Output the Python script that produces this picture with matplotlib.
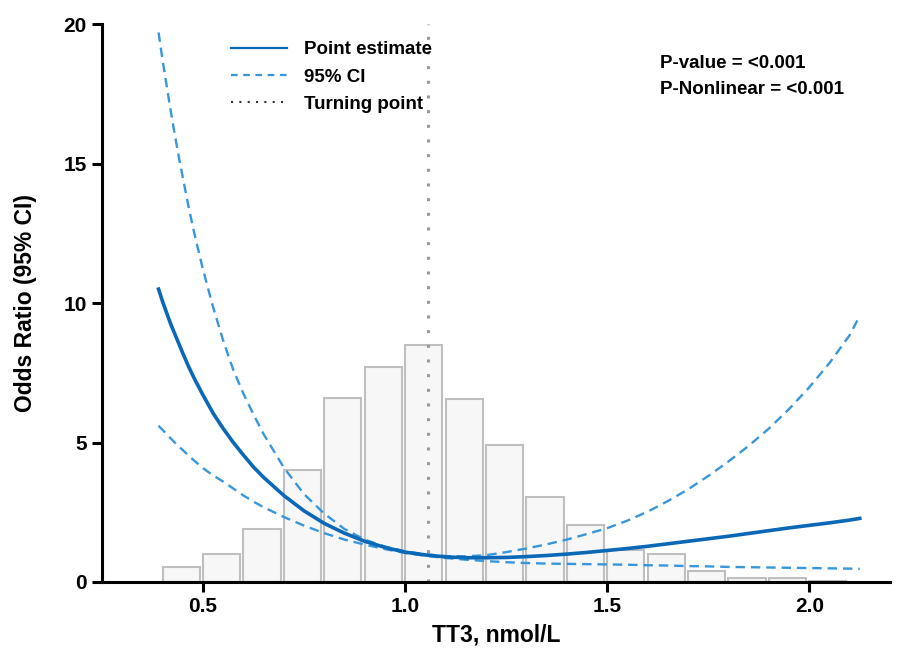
## RCS plot: Odds ratio of outcome by TT3, with histogram of TT3

import numpy as np
import matplotlib.pyplot as plt

plt.rcParams['font.family'] = ['Liberation Sans', 'DejaVu Sans']
plt.rcParams['font.weight'] = 'bold'
plt.rcParams['axes.labelweight'] = 'bold'

## Histogram of TT3 (bin left edges, scaled heights)
bin_left = [0.4, 0.5, 0.6, 0.7, 0.8, 0.9, 1.0, 1.1, 1.2, 1.3, 1.4, 1.5, 1.6, 1.7, 1.8, 1.9, 2.0]
bin_height = [0.52, 1.0, 1.9, 4.0, 6.6, 7.7, 8.5, 6.55, 4.9, 3.05, 2.05, 1.15, 1.0, 0.38, 0.15, 0.15, 0.04]

## Spline curve (OR and 95% CI)
tt3 = [0.39, 0.40, 0.41, 0.42, 0.43, 0.44, 0.45, 0.465, 0.48, 0.5, 0.525, 0.55, 0.575,
       0.6, 0.625, 0.65, 0.7, 0.75, 0.8, 0.85, 0.9, 0.95, 1.0, 1.05, 1.1, 1.15, 1.2,
       1.25, 1.3, 1.35, 1.4, 1.45, 1.5, 1.55, 1.6, 1.65, 1.7, 1.75, 1.8, 1.85, 1.9,
       1.95, 2.0, 2.05, 2.1, 2.125]
or_est = [10.5, 10.05, 9.65, 9.25, 8.9, 8.55, 8.2, 7.7, 7.25, 6.7, 6.05, 5.5, 5.0,
          4.55, 4.12, 3.75, 3.1, 2.55, 2.1, 1.75, 1.46, 1.24, 1.07, 0.97, 0.9, 0.87, 0.87,
          0.88, 0.91, 0.95, 1.0, 1.06, 1.13, 1.2, 1.28, 1.37, 1.46, 1.55, 1.64, 1.74, 1.84,
          1.94, 2.03, 2.12, 2.22, 2.28]
or_upper = [19.7, 18.7, 17.8, 16.9, 16.05, 15.25, 14.5, 13.4, 12.4, 11.2, 9.85, 8.65, 7.6,
            6.75, 6.0, 5.3, 4.1, 3.15, 2.45, 1.9, 1.52, 1.27, 1.1, 0.99, 0.93, 0.92, 0.96,
            1.07, 1.2, 1.35, 1.52, 1.72, 1.93, 2.2, 2.52, 2.9, 3.32, 3.8, 4.32, 4.88, 5.5,
            6.2, 6.98, 7.85, 8.85, 9.55]
or_lower = [5.6, 5.45, 5.3, 5.15, 5.0, 4.86, 4.73, 4.52, 4.33, 4.08, 3.82, 3.6, 3.35,
            3.1, 2.88, 2.68, 2.33, 2.02, 1.75, 1.52, 1.34, 1.18, 1.04, 0.94, 0.86, 0.8, 0.75,
            0.71, 0.68, 0.66, 0.65, 0.64, 0.63, 0.62, 0.6, 0.59, 0.57, 0.56, 0.54, 0.53, 0.52,
            0.51, 0.5, 0.49, 0.48, 0.47]

turning_point = 1.057

fig = plt.figure(figsize=(9.08, 6.51), dpi=100)
ax = fig.add_axes([0.1123, 0.106, 0.868, 0.857])

ax.bar(bin_left, bin_height, width=0.092, align='edge', color='#f8f7f8',
       edgecolor='#bfbfbf', linewidth=1.5, zorder=1)

ax.axvline(turning_point, color='#9a9a9a', linestyle=(0, (1, 3.8)), linewidth=2.2, zorder=2)

ax.plot(tt3, or_upper, color='#3896dc', linestyle=(0, (4, 2.5)), linewidth=1.7, zorder=3)
ax.plot(tt3, or_lower, color='#3896dc', linestyle=(0, (4, 2.5)), linewidth=1.7, zorder=3)
ax.plot(tt3, or_est, color='#0a68b6', linewidth=2.6, zorder=4)

## legend with proxy lines
h1, = ax.plot([], [], color='#0a68b6', linewidth=1.6, label='Point estimate')
h2, = ax.plot([], [], color='#3896dc', linestyle=(0, (3, 2.5)), linewidth=1.6, label='95% CI')
h3, = ax.plot([], [], color='#333333', linestyle=(0, (1, 3)), linewidth=1.5, label='Turning point')
ax.legend(handles=[h1, h2, h3], loc='upper left', bbox_to_anchor=(0.142, 1.0),
          frameon=False, fontsize=13.5, handlelength=3.0, handletextpad=0.9,
          labelspacing=0.55)

ax.text(0.708, 0.929, 'P-value = <0.001', transform=ax.transAxes, fontsize=13.5, va='center')
ax.text(0.708, 0.882, 'P-Nonlinear = <0.001', transform=ax.transAxes, fontsize=13.5, va='center')

ax.set_xlim(0.25, 2.2)
ax.set_ylim(0, 20)
ax.set_xticks([0.5, 1.0, 1.5, 2.0])
ax.set_yticks([0, 5, 10, 15, 20])
ax.set_xlabel('TT3, nmol/L', fontsize=16.5, labelpad=5)
ax.set_ylabel('Odds Ratio (95% CI)', fontsize=16.5, labelpad=19)

for s in ['top', 'right']:
    ax.spines[s].set_visible(False)
for s in ['left', 'bottom']:
    ax.spines[s].set_linewidth(2.2)
ax.tick_params(width=2.2, length=7, labelsize=15, pad=4)

plt.savefig('out.png', dpi=100)
